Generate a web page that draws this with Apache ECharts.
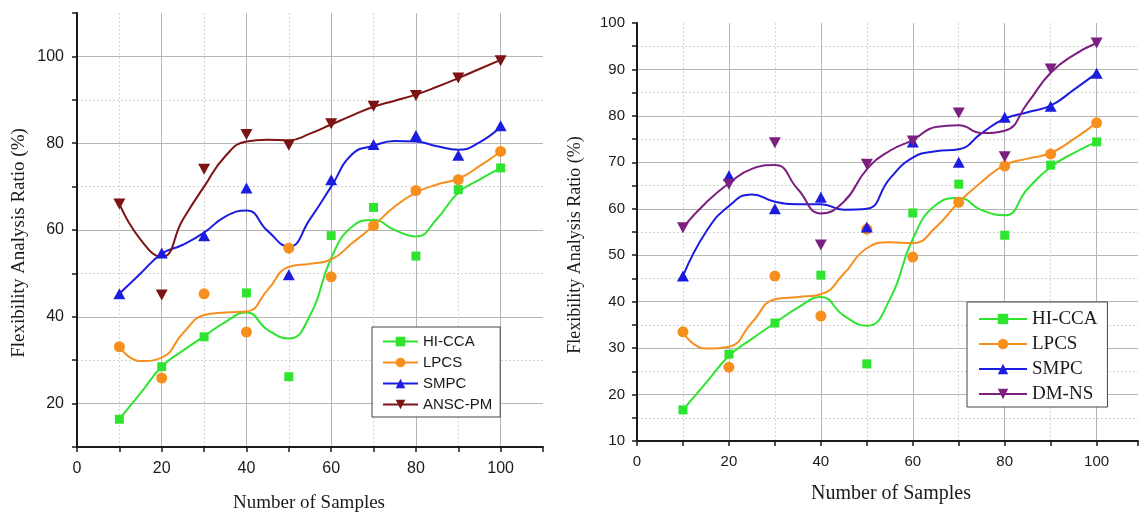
<!DOCTYPE html>
<html>
<head>
<meta charset="utf-8">
<title>Flexibility Analysis Ratio</title>
<script src="https://cdn.jsdelivr.net/npm/echarts@6/dist/echarts.min.js"></script>
<style>
  html, body { margin: 0; padding: 0; background: #fff; }
  #chart { width: 1141px; height: 513px; }
</style>
</head>
<body>
<div id="chart"></div>
<script>
const samples = [10, 20, 30, 40, 50, 60, 70, 80, 90, 100];
// x positions of the fitted curves (read every 5 samples)
const fitSamples = [10, 15, 20, 25, 30, 35, 40, 45, 50, 55, 60, 65, 70, 75, 80, 85, 90, 95, 100];

// left panel, measured points
const leftHiCca = [16.4, 28.5, 35.4, 45.5, 26.2, 58.7, 65.2, 54.0, 69.3, 74.3];
const leftLpcs = [33.1, 25.9, 45.3, 36.5, 55.8, 49.2, 61.0, 69.1, 71.6, 78.1];
const leftSmpc = [45.3, 54.7, 58.7, 69.7, 49.7, 71.6, 79.7, 81.8, 77.2, 84.0];
const leftAnsc = [66.0, 45.0, 74.0, 82.0, 79.5, 84.5, 88.5, 91.0, 95.0, 99.0];

// left panel, fitted curves
const leftHiCcaFit = [16.4, 22.4, 28.5, 32.2, 35.5, 38.8, 41.0, 37.0, 35.0, 40.3, 53.5, 60.8, 62.3, 60.0, 58.5, 62.6, 68.6, 71.6, 74.3];
const leftLpcsFit = [33.1, 29.8, 30.6, 36.2, 40.4, 41.0, 41.2, 46.2, 51.5, 52.2, 53.2, 57.0, 61.0, 65.4, 68.6, 70.5, 71.8, 74.7, 78.1];
const leftSmpcFit = [45.3, 50.0, 54.5, 56.6, 59.4, 63.1, 64.5, 59.8, 56.2, 62.5, 70.0, 77.5, 79.4, 80.5, 80.4, 79.3, 78.5, 80.2, 83.8];
const leftAnscFit = [66.0, 57.8, 53.8, 62.4, 70.0, 77.0, 80.4, 80.8, 80.7, 82.2, 84.3, 86.4, 88.4, 89.8, 91.2, 93.0, 95.0, 97.1, 99.2];

// right panel, measured points
const rightHiCca = [16.7, 28.7, 35.4, 45.7, 26.6, 59.1, 65.3, 54.3, 69.4, 74.4];
const rightLpcs = [33.5, 25.9, 45.5, 36.9, 55.6, 49.6, 61.4, 69.2, 71.8, 78.5];
const rightSmpc = [45.5, 67.1, 60.0, 62.5, 56.1, 74.4, 70.0, 79.7, 82.1, 89.2];
const rightDmns = [55.9, 65.3, 74.2, 52.2, 69.6, 74.6, 80.6, 71.2, 90.1, 95.7];

// right panel, fitted curves
const rightHiCcaFit = [16.7, 22.5, 28.3, 32.0, 35.4, 38.7, 41.0, 37.0, 34.8, 40.5, 53.5, 60.8, 62.3, 59.7, 58.6, 64.3, 69.0, 72.0, 74.4];
const rightLpcsFit = [33.3, 29.9, 30.3, 35.5, 40.5, 41.0, 41.6, 46.0, 51.5, 52.8, 52.6, 56.0, 61.4, 65.8, 69.4, 70.8, 72.0, 75.0, 78.5];
const rightSmpcFit = [45.5, 55.0, 60.6, 63.1, 61.5, 61.0, 61.0, 59.8, 60.0, 66.5, 71.0, 72.4, 72.8, 76.3, 79.4, 80.8, 82.2, 85.6, 89.2];
const rightDmnsFit = [56.0, 61.3, 65.5, 68.6, 69.4, 64.2, 59.0, 61.5, 68.5, 72.5, 74.8, 77.6, 78.0, 76.3, 76.8, 82.8, 89.3, 93.1, 95.7];

const leftNames = ["HI-CCA", "LPCS", "SMPC", "ANSC-PM"];
const rightNames = ["HI-CCA", "LPCS", "SMPC", "DM-NS"];

const STYLE = {
  "HI-CCA": { color: "#2fe42f", symbol: "rect", size: 9, rotate: 0 },
  LPCS: { color: "#f78f1e", symbol: "circle", size: 11, rotate: 0 },
  SMPC: { color: "#1c1ce0", symbol: "triangle", size: [12, 11], rotate: 0 },
  "ANSC-PM": { color: "#7d1313", symbol: "triangle", size: [12, 11], rotate: 180 },
  "DM-NS": { color: "#7c1f80", symbol: "triangle", size: [12, 11], rotate: 180 }
};

const chart = echarts.init(document.getElementById("chart"));

// tick values the axis will produce (min + k*step, plus the max)
const tickList = (min, max, step) => {
  const out = [];
  for (let v = min; v <= max + 1e-9; v += step) out.push(v);
  if (out[out.length - 1] < max) out.push(max);
  return out;
};

// one visible axis (solid major grid) + one hidden twin (dotted minor grid)
const makeAxes = (gridIndex, pos, min, max, step, major, labelMargin, fontSize) => {
  const ticks = tickList(min, max, step);
  const solid = ticks.map((v) => (v % major === 0 ? "#b5b5b5" : "rgba(0,0,0,0)"));
  const dotted = ticks.map((v) => (v % major === 0 ? "rgba(0,0,0,0)" : "#d4d4d4"));
  return [
    {
      type: "value",
      gridIndex,
      position: pos,
      min,
      max,
      interval: step,
      axisLine: { show: true, onZero: false, lineStyle: { color: "#1a1a1a", width: 2 } },
      axisTick: { show: true, length: 5, lineStyle: { color: "#1a1a1a", width: 1.5 } },
      axisLabel: {
        margin: labelMargin,
        fontFamily: "Liberation Sans",
        fontSize,
        color: "#1a1a1a",
        formatter: (v) => (v % major === 0 ? String(v) : "")
      },
      splitLine: { show: true, showMaxLine: false, lineStyle: { color: solid, width: 1 } }
    },
    {
      type: "value",
      gridIndex,
      position: pos,
      min,
      max,
      interval: step,
      axisLine: { show: false },
      axisTick: { show: false },
      axisLabel: { show: false },
      splitLine: { show: true, showMaxLine: false, lineStyle: { color: dotted, width: 1, type: [2, 2] } }
    }
  ];
};

const buildSeries = (names, points, fits, xIdx, yIdx) => {
  const out = [];
  names.forEach((name, i) => {
    const s = STYLE[name];
    out.push({
      name,
      type: "line",
      xAxisIndex: xIdx,
      yAxisIndex: yIdx,
      data: fitSamples.map((x, k) => [x, fits[i][k]]),
      smooth: 0.5,
      showSymbol: false,
      symbol: s.symbol,
      symbolRotate: s.rotate,
      lineStyle: { color: s.color, width: 2 },
      itemStyle: { color: s.color },
      z: 2
    });
    out.push({
      name: name + " points",
      type: "scatter",
      xAxisIndex: xIdx,
      yAxisIndex: yIdx,
      data: samples.map((x, k) => [x, points[i][k]]),
      symbol: s.symbol,
      symbolSize: s.size,
      symbolRotate: s.rotate,
      itemStyle: { color: s.color, opacity: 1 },
      z: 3
    });
  });
  return out;
};

const leftX = makeAxes(0, "bottom", 0, 110, 10, 20, 14, 16);
const leftY = makeAxes(0, "left", 10, 110, 10, 20, 13, 16);
const rightX = makeAxes(1, "bottom", 0, 109, 10, 20, 13, 15);
const rightY = makeAxes(1, "left", 10, 100, 5, 10, 12, 15);

const option = {
  animation: false,
  backgroundColor: "#fff",
  grid: [
    { left: 77, top: 13, width: 466, height: 434 },
    { left: 637, top: 23, width: 504, height: 418 }
  ],
  xAxis: [...leftX, ...rightX],
  yAxis: [...leftY, ...rightY],
  legend: [
    {
      data: leftNames,
      orient: "vertical",
      left: 372,
      top: 327,
      padding: [6, 8, 4, 10],
      itemWidth: 35,
      itemHeight: 12,
      itemGap: 4,
      borderColor: "#444",
      borderWidth: 1,
      backgroundColor: "#fff",
      selectedMode: false,
      textStyle: { fontFamily: "Liberation Sans", fontSize: 15, color: "#1a1a1a", lineHeight: 17 }
    },
    {
      data: rightNames,
      orient: "vertical",
      left: 967,
      top: 302,
      padding: [7, 10, 3, 11],
      itemWidth: 48,
      itemHeight: 13,
      itemGap: 5,
      borderColor: "#444",
      borderWidth: 1,
      backgroundColor: "#fff",
      selectedMode: false,
      textStyle: { fontFamily: "Liberation Serif", fontSize: 19, color: "#1a1a1a", lineHeight: 20 }
    }
  ],
  graphic: [
    {
      type: "text",
      x: 19,
      y: 243,
      rotation: Math.PI / 2,
      style: { text: "Flexibility Analysis Ratio (%)", font: '19px "Liberation Serif"', fill: "#1a1a1a", align: "center", verticalAlign: "middle" }
    },
    {
      type: "text",
      x: 309,
      y: 503,
      style: { text: "Number of Samples", font: '19px "Liberation Serif"', fill: "#1a1a1a", align: "center", verticalAlign: "middle" }
    },
    {
      type: "text",
      x: 575,
      y: 245,
      rotation: Math.PI / 2,
      style: { text: "Flexibility Analysis Ratio (%)", font: '18px "Liberation Serif"', fill: "#1a1a1a", align: "center", verticalAlign: "middle" }
    },
    {
      type: "text",
      x: 891,
      y: 494,
      style: { text: "Number of Samples", font: '20px "Liberation Serif"', fill: "#1a1a1a", align: "center", verticalAlign: "middle" }
    }
  ],
  series: [
    ...buildSeries(leftNames, [leftHiCca, leftLpcs, leftSmpc, leftAnsc], [leftHiCcaFit, leftLpcsFit, leftSmpcFit, leftAnscFit], 0, 0),
    ...buildSeries(rightNames, [rightHiCca, rightLpcs, rightSmpc, rightDmns], [rightHiCcaFit, rightLpcsFit, rightSmpcFit, rightDmnsFit], 2, 2)
  ]
};

chart.setOption(option);
</script>
</body>
</html>
